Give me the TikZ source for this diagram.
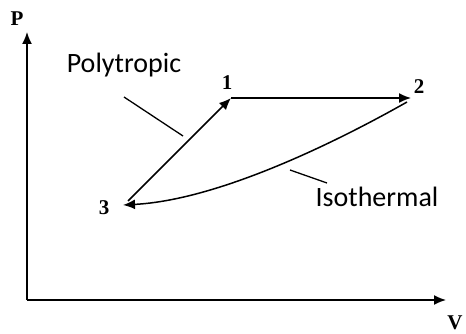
\documentclass[tikz,border=0pt]{standalone}
\usepackage{fontspec}
\setmainfont{Liberation Serif}
\newfontfamily\calib{Carlito}
\usetikzlibrary{arrows.meta}
\begin{document}
\begin{tikzpicture}[x=1pt,y=-1pt,
  arr/.style={line width=1.5pt,-{Latex[length=12pt,width=10pt]}},
  lead/.style={line width=1.3pt},
  pt/.style={font=\fontsize{21}{21}\selectfont\bfseries,inner sep=0pt,anchor=base},
  lbl/.style={font=\fontsize{28}{28}\selectfont\calib,inner sep=0pt,anchor=base}]
\useasboundingbox (0,0) rectangle (466,334);
% axes
\coordinate (o) at (27,300);
\coordinate (ytop) at (27,32);
\coordinate (xend) at (446,300);
\draw[arr] (o) -- (ytop);
\draw[arr] (o) -- (xend);
\node[pt] (P) at (17,26) {P};
\node[pt] (V) at (455,329) {V};
% states
\coordinate (p1) at (231,98);
\coordinate (p2) at (411,98);
\coordinate (p3) at (123,205);
\coordinate (p3s) at (128,201);
\coordinate (p2s) at (407,102);
\node[pt] (n1) at (227,90) {1};
\node[pt] (n2) at (419,94) {2};
\node[pt] (n3) at (104,214) {3};
\draw[arr] (p3s) -- (p1);
\draw[arr] (p1) -- (p2);
\draw[arr] (p2s) .. controls (340,140) and (220,200) .. (p3);
% labels
\node[lbl] (poly) at (124,73) {Polytropic};
\node[lbl] (iso) at (377,207) {Isothermal};
\coordinate (pa) at (124,97);
\coordinate (pb) at (183,136);
\coordinate (ia) at (290,170);
\coordinate (ib) at (327,183);
\draw[lead] (pa) -- (pb);
\draw[lead] (ia) -- (ib);
\end{tikzpicture}
\end{document}
